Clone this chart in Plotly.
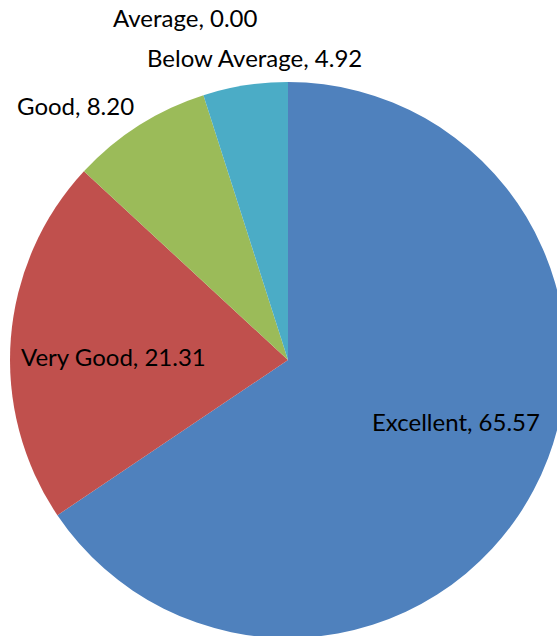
import plotly.graph_objects as go

categories = ["Excellent", "Very Good", "Good", "Below Average", "Average"]
values = [65.57, 21.31, 8.20, 4.92, 0.00]
colors = ["#4F81BD", "#C0504D", "#9BBB59", "#4BACC6", "#8064A2"]

W, H = 566, 640

# label centres in pixels
label_pos = {
    "Excellent": (456, 421),
    "Very Good": (113, 356),
    "Good": (75, 105),
    "Below Average": (254, 58),
    "Average": (185, 18),
}

fig = go.Figure(go.Pie(
    labels=categories,
    values=values,
    sort=False,
    direction="clockwise",
    rotation=0,
    marker=dict(colors=colors, line=dict(width=0)),
    textinfo="none",
    hoverinfo="skip",
    showlegend=False,
    domain=dict(x=[10 / W, 1], y=[(H - 638) / H, (H - 82) / H]),
))

annotations = []
for cat, val in zip(categories, values):
    px, py = label_pos[cat]
    annotations.append(dict(
        x=px / W, y=1 - py / H, xref="paper", yref="paper",
        text=f"{cat}, {val:.2f}", showarrow=False,
        xanchor="center", yanchor="middle",
        font=dict(family="Lato, Open Sans, sans-serif", size=24, color="#000000"),
    ))

fig.update_layout(
    width=W, height=H, autosize=False,
    margin=dict(l=0, r=0, t=0, b=0),
    paper_bgcolor="white", plot_bgcolor="white",
    annotations=annotations,
)

fig.write_html(
    "out.html",
    config={"displayModeBar": False},
    post_script="document.body.style.overflow='hidden';document.body.style.margin='0';",
)
